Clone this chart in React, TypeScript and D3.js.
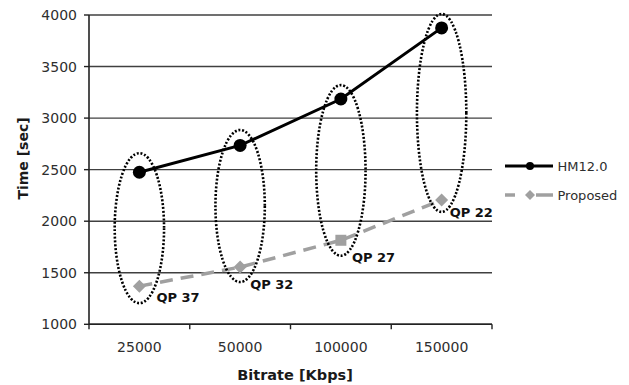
import React from "react";
import * as d3 from "d3";

const categories = ["25000", "50000", "100000", "150000"];
const hmValues = [2475, 2735, 3185, 3875];
const proposedValues = [1370, 1555, 1815, 2205];
const proposedShapes = ["diamond", "diamond", "square", "diamond"];
const qpLabels = ["QP 37", "QP 32", "QP 27", "QP 22"];
const ellipseTop = [2660, 2885, 3320, 4010];
const ellipseBottom = [1205, 1410, 1665, 2090];
const yTicks = [1000, 1500, 2000, 2500, 3000, 3500, 4000];
const seriesNames = ["HM12.0", "Proposed"];

const W = 629;
const H = 385;
const left = 89;
const right = 492;
const top = 15;
const bottom = 324.3;
const FONT = "'DejaVu Sans', Verdana, sans-serif";
const GRAY = "#a0a0a0";
const TEXT = "#2e2e2e";

// label offsets (annotation layout) relative to proposed points
const labelOffsets: [number, number][] = [
  [17, 11],
  [10, 17],
  [11, 17],
  [8, 12],
];

export default function App() {
  const x = d3.scaleBand<string>().domain(categories).range([left, right]).padding(0);
  const y = d3.scaleLinear().domain([1000, 4000]).range([bottom, top]);
  const cx = (c: string) => (x(c) as number) + x.bandwidth() / 2;

  const line = d3
    .line<number>()
    .x((_, i) => cx(categories[i]))
    .y((d) => y(d));

  const diamond = (px: number, py: number, r: number) =>
    `M${px},${py - r}L${px + r},${py}L${px},${py + r}L${px - r},${py}Z`;

  return (
    <svg
      width={W}
      height={H}
      style={{ position: "absolute", left: 0, top: 0, background: "#fff" }}
    >
      <rect width={W} height={H} fill="#fff" />
      {/* gridlines */}
      {yTicks.map((t) => (
        <line
          key={"g" + t}
          x1={left}
          x2={right}
          y1={y(t)}
          y2={y(t)}
          stroke="#404040"
          strokeWidth={1.4}
        />
      ))}
      {/* y axis */}
      <line x1={left} x2={left} y1={top} y2={bottom} stroke="#222" strokeWidth={1.6} />
      {yTicks.map((t) => (
        <g key={"yt" + t}>
          <line x1={left - 5} x2={left} y1={y(t)} y2={y(t)} stroke="#222" strokeWidth={1.4} />
          <text
            x={77}
            y={y(t)}
            textAnchor="end"
            dominantBaseline="central"
            fontFamily={FONT}
            fontSize={14}
            fill={TEXT}
          >
            {t}
          </text>
        </g>
      ))}
      {/* x axis */}
      <line x1={left} x2={right} y1={bottom} y2={bottom} stroke="#222" strokeWidth={1.6} />
      {[...categories.map((c) => x(c) as number), right].map((px, i) => (
        <line key={"xt" + i} x1={px} x2={px} y1={bottom} y2={bottom + 5} stroke="#222" strokeWidth={1.4} />
      ))}
      {categories.map((c) => (
        <text
          key={"xl" + c}
          x={cx(c)}
          y={346.7}
          textAnchor="middle"
          dominantBaseline="central"
          fontFamily={FONT}
          fontSize={14}
          fill={TEXT}
        >
          {c}
        </text>
      ))}
      {/* axis titles */}
      <text
        x={295}
        y={375}
        textAnchor="middle"
        dominantBaseline="central"
        fontFamily={FONT}
        fontSize={14.5}
        fontWeight="bold"
        fill="#1a1a1a"
      >
        Bitrate [Kbps]
      </text>
      <text
        transform={`translate(23,158.5) rotate(-90)`}
        textAnchor="middle"
        dominantBaseline="central"
        fontFamily={FONT}
        fontSize={14}
        fontWeight="bold"
        fill="#1a1a1a"
      >
        Time [sec]
      </text>

      {/* proposed series */}
      <path
        d={line(proposedValues) || ""}
        fill="none"
        stroke={GRAY}
        strokeWidth={3.5}
        strokeDasharray="13,8"
      />
      {proposedValues.map((v, i) => {
        const px = cx(categories[i]);
        const py = y(v);
        return proposedShapes[i] === "square" ? (
          <rect key={"pm" + i} x={px - 5.5} y={py - 5.5} width={11} height={11} fill={GRAY} />
        ) : (
          <path key={"pm" + i} d={diamond(px, py, 6.5)} fill={GRAY} />
        );
      })}

      {/* HM12.0 series */}
      <path d={line(hmValues) || ""} fill="none" stroke="#000" strokeWidth={3} />
      {hmValues.map((v, i) => (
        <circle key={"hm" + i} cx={cx(categories[i])} cy={y(v)} r={6.5} fill="#000" />
      ))}

      {/* dotted ellipses */}
      {categories.map((c, i) => {
        const yt = y(ellipseTop[i]);
        const yb = y(ellipseBottom[i]);
        return (
          <ellipse
            key={"el" + i}
            cx={cx(c)}
            cy={(yt + yb) / 2}
            rx={x.bandwidth() * 0.245}
            ry={(yb - yt) / 2}
            fill="none"
            stroke="#000"
            strokeWidth={2.6}
            strokeDasharray="2,1.8"
          />
        );
      })}

      {/* QP labels */}
      {qpLabels.map((l, i) => (
        <text
          key={"qp" + i}
          x={cx(categories[i]) + labelOffsets[i][0]}
          y={y(proposedValues[i]) + labelOffsets[i][1]}
          dominantBaseline="central"
          fontFamily={FONT}
          fontSize={13}
          fontWeight="bold"
          fill="#111"
        >
          {l}
        </text>
      ))}

      {/* legend */}
      <g>
        <line x1={505} x2={553} y1={166} y2={166} stroke="#000" strokeWidth={3} />
        <circle cx={530} cy={166} r={4} fill="#000" />
        <text x={557.5} y={166} dominantBaseline="central" fontFamily={FONT} fontSize={13} fill={TEXT}>
          {seriesNames[0]}
        </text>
        <line x1={505} x2={515} y1={195} y2={195} stroke={GRAY} strokeWidth={3.5} />
        <line x1={536} x2={553} y1={195} y2={195} stroke={GRAY} strokeWidth={3.5} />
        <path d={diamond(530, 195, 5)} fill={GRAY} />
        <text x={557.5} y={195} dominantBaseline="central" fontFamily={FONT} fontSize={13} fill={TEXT}>
          {seriesNames[1]}
        </text>
      </g>
    </svg>
  );
}
